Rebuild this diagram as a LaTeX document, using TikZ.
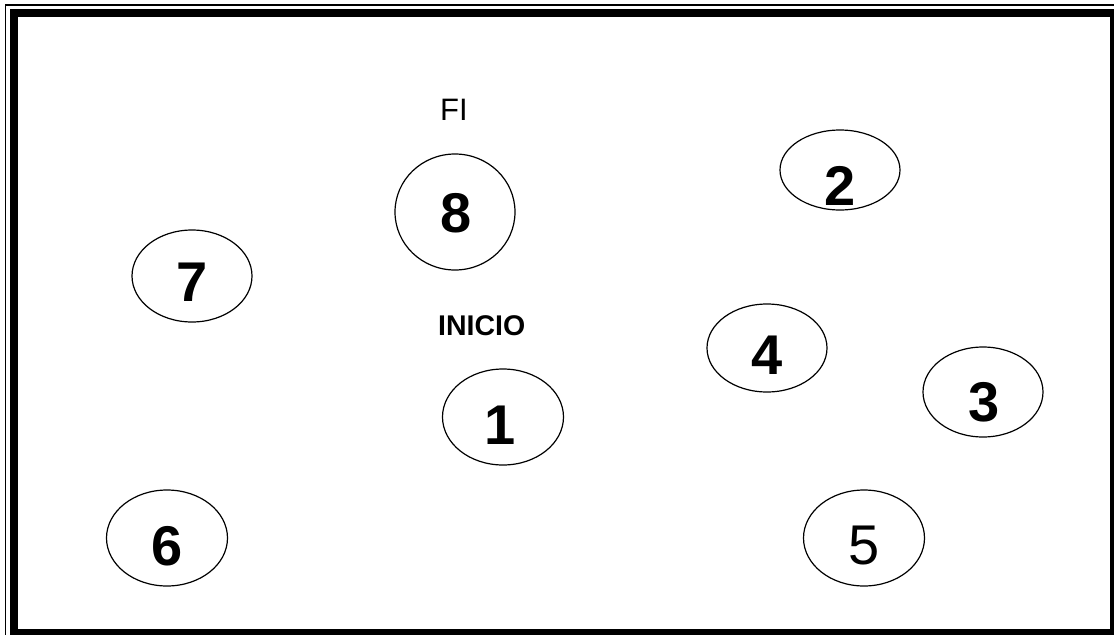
\documentclass[tikz,border=0pt]{standalone}
\usepackage{fontspec}
\setmainfont{Liberation Sans}
\usetikzlibrary{shapes.geometric}
\tikzset{
  oval/.style={draw, ellipse, line width=1.2pt},
  digit/.style={inner sep=0pt, font=\fontsize{56}{56}\selectfont\bfseries},
  digitreg/.style={inner sep=0pt, font=\fontsize{56}{56}\selectfont},
  lab/.style={inner sep=0pt, anchor=north west},
}
\begin{document}
\begin{tikzpicture}[x=1pt,y=-1pt]
\useasboundingbox (0,0) rectangle (1114,635);
% border
\fill[black] (5,4) rectangle (1114,5.6);
\fill[black] (4.8,4) rectangle (6.4,635);
\fill[black] (10,9) rectangle (1114,16.5);
\fill[black] (10,9) rectangle (17.5,635);
\fill[black] (1110,9) rectangle (1114,635);
\fill[black] (10,628.5) rectangle (1114,635);
% ellipses
\node[oval, minimum width=120pt, minimum height=116pt] (e8) at (455,212) {};
\node[oval, minimum width=120pt, minimum height=80pt] (e2) at (840,170) {};
\node[oval, minimum width=120pt, minimum height=92pt] (e7) at (192,276) {};
\node[oval, minimum width=121pt, minimum height=96pt] (e1) at (503,417) {};
\node[oval, minimum width=120pt, minimum height=88pt] (e4) at (767,348) {};
\node[oval, minimum width=120pt, minimum height=90pt] (e3) at (983,392) {};
\node[oval, minimum width=121pt, minimum height=96pt] (e5) at (864,538) {};
\node[oval, minimum width=121pt, minimum height=96pt] (e6) at (167,538) {};
% digits
\node[digit] (d8) at (456,213) {8};
\node[digit] (d2) at (840,186) {2};
\node[digit] (d7) at (192,282) {7};
\node[digit] (d1) at (500,425) {1};
\node[digit] (d4) at (767,355) {4};
\node[digit] (d3) at (984,402) {3};
\node[digitreg] (d5) at (864,546) {5};
\node[digit] (d6) at (167,546) {6};
% labels
\node[lab, font=\fontsize{31}{31}\selectfont] (fi) at (440,99) {FI};
\node[lab, font=\fontsize{28.5}{28.5}\selectfont\bfseries] (inicio) at (438,315) {INICIO};
\end{tikzpicture}
\end{document}
